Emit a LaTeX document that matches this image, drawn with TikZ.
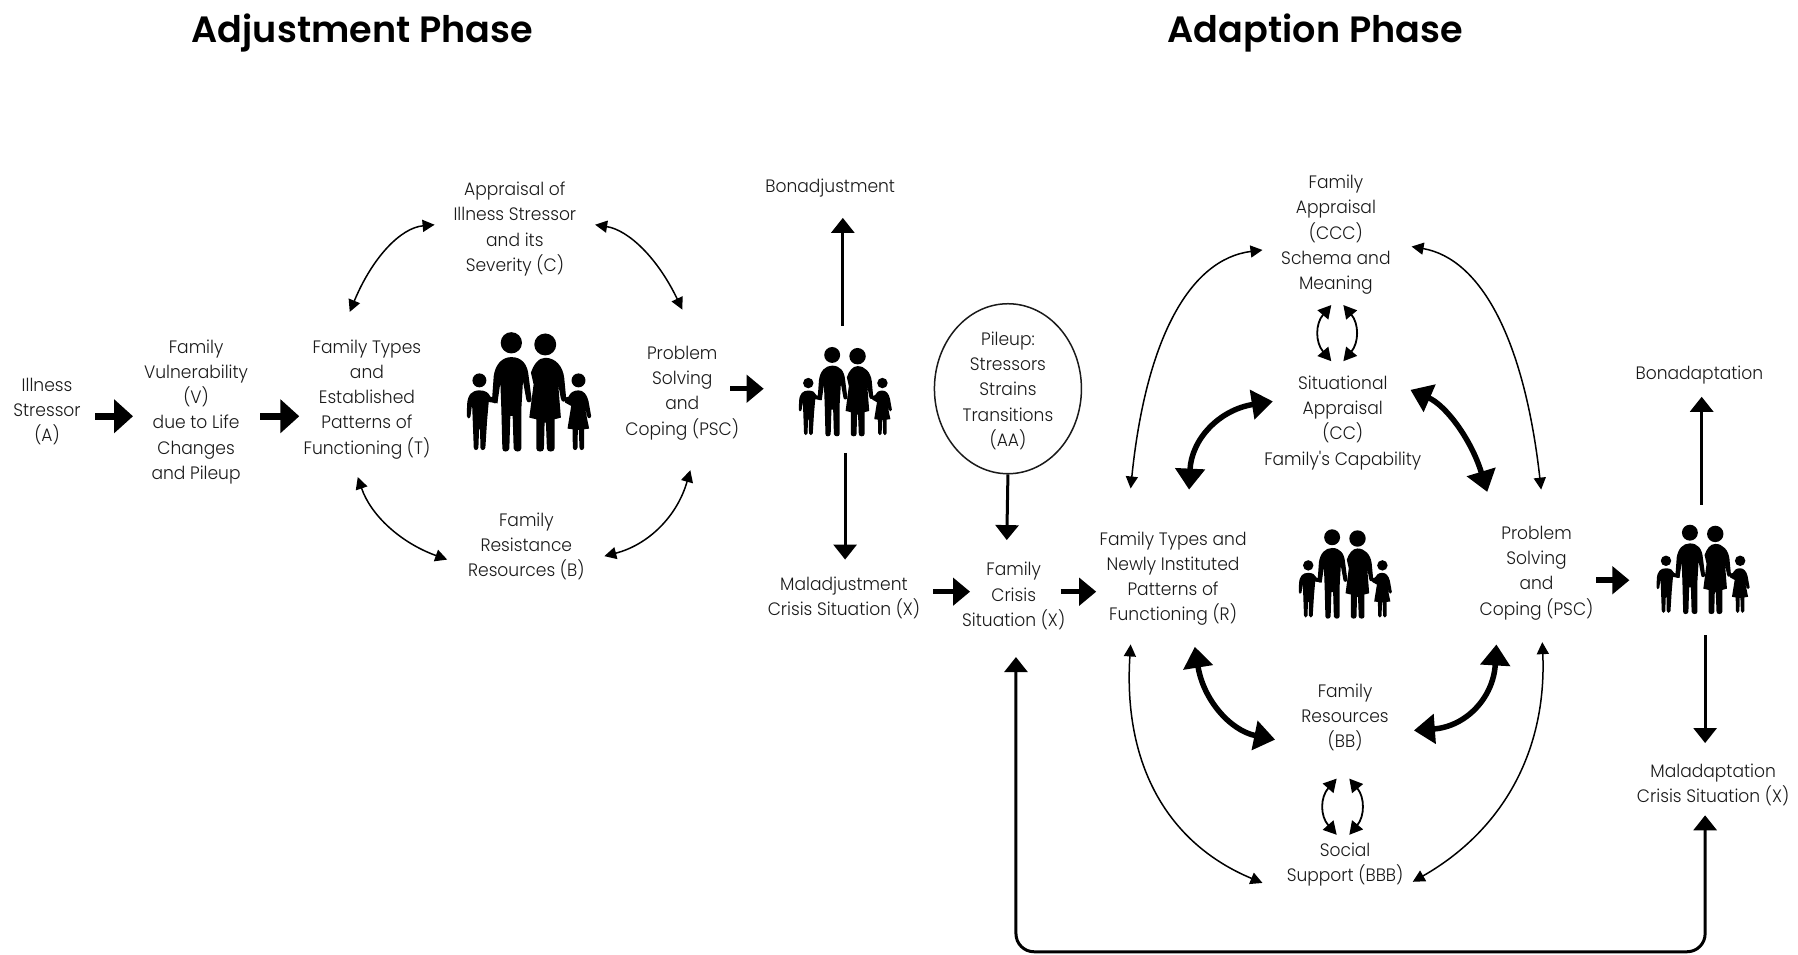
\documentclass[tikz,border=0pt]{standalone}
\usepackage{fontspec}
\usetikzlibrary{arrows.meta,shapes.geometric,calc}
\newfontfamily\lbl[FakeStretch=0.95]{Poppins Light}
\newfontfamily\ttl{Poppins SemiBold}
\definecolor{ink}{HTML}{1A1A1A}
\newcommand{\qcv}[4]{\draw[#1] (#2) .. controls ($(#2)!.667!(#3)$) and ($(#4)!.667!(#3)$) .. (#4);}
\tikzset{
  x=1.1467pt,y=-1.1467pt,
  txt/.style={inner sep=0pt,align=center,text=ink,yshift=-2pt,font=\lbl\fontsize{18}{25.2}\selectfont},
  head/.style={inner sep=0pt,text=black,font=\ttl\fontsize{36.6}{44}\selectfont},
  blk/.style={line width=7pt,-{Triangle[length=19pt,width=33pt]}},
  blks/.style={line width=5.5pt,-{Triangle[length=17pt,width=27pt]}},
  vert/.style={line width=3pt,-{Triangle[length=15pt,width=23pt]}},
  vertd/.style={line width=3pt,{Triangle[length=15pt,width=23pt]}-{Triangle[length=15pt,width=23pt]},rounded corners=18pt},
  thin2/.style={line width=1.5pt,{Triangle[length=12pt,width=12pt]}-{Triangle[length=12pt,width=12pt]}},
  thick2/.style={line width=5.5pt,{Triangle[length=21pt,width=29pt]}-{Triangle[length=21pt,width=29pt]}},
  small2/.style={line width=1.8pt,{Triangle[length=13pt,width=14pt]}-{Triangle[length=13pt,width=14pt]}},
  family/.pic={
    \begin{scope}[shift={(-265,-245)}]
    \fill (213,100) circle (32);
    \fill (315,105) circle (33);
    \fill (117,213) circle (21);
    \fill (415,213) circle (21);
    % father
    \fill (213,143) .. controls (245,143) and (262,165) .. (265,200) -- (274,270)
      .. controls (274,282) and (258,282) .. (258,270) -- (248,215) -- (243,300) -- (243,418)
      .. controls (243,430) and (222,430) .. (220,418) -- (217,320) -- (210,320) -- (207,418)
      .. controls (205,430) and (186,430) .. (186,418) -- (183,300) -- (180,220) -- (172,275)
      .. controls (170,285) and (155,285) .. (155,270) -- (160,200)
      .. controls (165,165) and (185,143) .. (213,143) -- cycle;
    % mother
    \fill (315,145) .. controls (345,145) and (368,170) .. (372,205) -- (378,268)
      .. controls (376,280) and (364,280) .. (362,268) -- (354,225) -- (362,325) -- (343,330) -- (343,418)
      .. controls (343,430) and (320,430) .. (320,418) -- (317,340) -- (313,340) -- (311,418)
      .. controls (311,430) and (288,430) .. (288,418) -- (288,330) -- (267,325) -- (280,225)
      -- (272,190) .. controls (280,165) and (295,145) .. (315,145) -- cycle;
    % boy
    \fill (117,243) .. controls (135,243) and (145,250) .. (150,262) -- (172,268) -- (172,282) -- (145,278)
      -- (140,335) -- (135,415) .. controls (133,425) and (121,425) .. (120,415) -- (119,360) -- (116,360) -- (114,415)
      .. controls (112,425) and (101,425) .. (100,415) -- (97,335) -- (95,285) -- (90,322)
      .. controls (87,330) and (79,328) .. (79,320) -- (80,285) .. controls (82,255) and (95,243) .. (117,243) -- cycle;
    % girl
    \fill (415,243) .. controls (430,243) and (440,255) .. (445,275) -- (453,320)
      .. controls (451,330) and (442,328) .. (441,320) -- (432,285) -- (447,358) -- (432,360) -- (432,415)
      .. controls (430,425) and (419,425) .. (418,415) -- (416,362) -- (413,362) -- (412,415)
      .. controls (410,425) and (399,425) .. (398,415) -- (397,360) -- (382,358) -- (393,290) -- (375,280)
      -- (370,266) -- (385,262) .. controls (390,250) and (400,243) .. (415,243) -- cycle;
    \end{scope}
  }
}
\begin{document}
\begin{tikzpicture}
\useasboundingbox (0,0) rectangle (1568,832);
% titles
\node[head] (adj) at (316,29) {Adjustment Phase};
\node[head] (ada) at (1147,29) {Adaption Phase};
% left phase
\node[txt] (illness) at (41,357) {Illness\\Stressor\\(A)};
\node[txt] (vuln) at (171,357.5) {Family\\Vulnerability\\(V)\\due to Life\\Changes\\and Pileup};
\node[txt] (typesT) at (320,346.5) {Family Types\\and\\Established\\Patterns of\\Functioning (T)};
\node[txt] (apprC) at (449,198) {Appraisal of\\Illness Stressor\\and its\\Severity (C)};
\node[txt] (resB) at (459,474.5) {Family\\Resistance\\Resources (B)};
\node[txt] (pscL) at (595,341) {Problem\\Solving\\and\\Coping (PSC)};
\node[txt] (bonadj) at (724,162) {Bonadjustment};
\node[txt] (maladj) at (736,520) {Maladjustment\\Crisis Situation (X)};
\node[txt] (crisis) at (884,518) {Family\\Crisis\\Situation (X)};
% pileup
\node[ellipse,draw=ink,line width=1.5pt,minimum width=147pt,minimum height=170pt,inner sep=0pt] (pile) at (879,339) {};
\node[txt] (pileT) at (879,339) {Pileup:\\Stressors\\Strains\\Transitions\\(AA)};
% right phase
\node[txt] (typesR) at (1023,503) {Family Types and\\Newly Instituted\\Patterns of\\Functioning (R)};
\node[txt] (pscR) at (1340,498) {Problem\\Solving\\and\\Coping (PSC)};
\node[txt] (apprF) at (1165,203) {Family\\Appraisal\\(CCC)\\Schema and\\Meaning};
\node[txt] (apprS) at (1171,367) {Situational\\Appraisal\\(CC)\\Family's Capability};
\node[txt] (resBB) at (1173,624) {Family\\Resources\\(BB)};
\node[txt] (social) at (1173,752.5) {Social\\Support (BBB)};
\node[txt] (bonada) at (1482,325) {Bonadaptation};
\node[txt] (malada) at (1494,683) {Maladaptation\\Crisis Situation (X)};
% families
\pic[scale=0.29] at (461,341) {family};
\pic[scale=0.217] at (737,341) {family};
\pic[scale=0.217] at (1173,500) {family};
\pic[scale=0.217] at (1485,496) {family};
% connector ends
\foreach \n/\x/\y in {a1/83/363,a2/116/363,b1/227/363,b2/261/363,c1/637/339,c2/666/339,
  d1/814/516,d2/846/516,e1/925/516,e2/956/516,f1/1392/506,f2/1421/506,
  g1/735/284,g2/735/190,h1/737/395,h2/737/488,i2/878/471,j1/1484/440,j2/1484/346,
  k1/1487/554,k2/1487/648,m1/1487/711,m2/1487/830,m3/886/830,m4/886/573,
  p1/305/272,p2/379/196,q1/519/196,q2/595/270,r1/312/416,r2/390/488,s1/602/410,s2/527/485,
  t1/1101/218,t2/986/426,u1/1231/215,u2/1344/427,v1/986/562,v2/1101/770,w1/1345/560,w2/1232/769,
  A1/1110/350,A2/1037/427,B1/1230/340,B2/1297/429,C1/1042/564,C2/1112/645,D1/1305/562,D2/1233/637,
  E1/1161/266,E2/1161/315,F1/1171.5/266,F2/1171.5/315,G1/1165.7/679,G2/1165.7/728,H1/1176.7/679,H2/1176.7/728}
  {\coordinate (\n) at (\x,\y);}
% thick short arrows
\draw[blk] (a1) -- (a2);
\draw[blk] (b1) -- (b2);
\draw[blks] (c1) -- (c2);
\draw[blks] (d1) -- (d2);
\draw[blks] (e1) -- (e2);
\draw[blks] (f1) -- (f2);
% vertical arrows
\draw[vert] (g1) -- (g2);
\draw[vert] (h1) -- (h2);
\draw[vert] (pile.south) -- (i2);
\draw[vert] (j1) -- (j2);
\draw[vert] (k1) -- (k2);
\draw[vertd] (m1) -- (m2) -- (m3) -- (m4);
% left cycle
\qcv{thin2}{p1}{335,200}{p2}
\qcv{thin2}{q1}{563,203}{q2}
\qcv{thin2}{r1}{329,466}{r2}
\qcv{thin2}{s1}{585,470}{s2}
% right outer cycle
\qcv{thin2}{t1}{1006,230}{t2}
\qcv{thin2}{u1}{1322,231}{u2}
\qcv{thin2}{v1}{976,718}{v2}
\qcv{thin2}{w1}{1351,701}{w2}
% right inner thick
\qcv{thick2}{A1}{1040,361}{A2}
\qcv{thick2}{B1}{1276,360}{B2}
\qcv{thick2}{C1}{1053,633}{C2}
\qcv{thick2}{D1}{1301,632}{D2}
% small exchange
\qcv{small2}{E1}{1140,290.5}{E2}
\qcv{small2}{F1}{1192,290.5}{F2}
\qcv{small2}{G1}{1144,703.5}{G2}
\qcv{small2}{H1}{1197,703.5}{H2}
\end{tikzpicture}
\end{document}
